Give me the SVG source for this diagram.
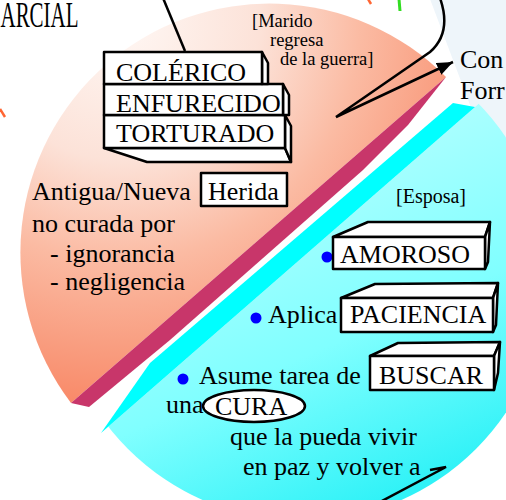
<svg xmlns="http://www.w3.org/2000/svg" width="506" height="500" viewBox="0 0 506 500">
<defs>
<radialGradient id="gSalmon" gradientUnits="userSpaceOnUse" cx="120" cy="20" r="400">
<stop offset="0" stop-color="#FFF8F5"/>
<stop offset="0.35" stop-color="#FCE2D8"/>
<stop offset="0.6" stop-color="#FBBBA3"/>
<stop offset="0.8" stop-color="#F9A083"/>
<stop offset="1" stop-color="#F98563"/>
</radialGradient>
<linearGradient id="gCyan" gradientUnits="userSpaceOnUse" x1="300" y1="180" x2="430" y2="480">
<stop offset="0" stop-color="#AAFFFF"/>
<stop offset="0.5" stop-color="#80FFFF"/>
<stop offset="1" stop-color="#30F2F7"/>
</linearGradient>
<clipPath id="clipCyan"><polygon points="849,-219 1000,-219 1000,1000 -273,1000 -273,759"/></clipPath>
<marker id="arrow" markerUnits="userSpaceOnUse" markerWidth="17" markerHeight="13" refX="16" refY="6.5" orient="auto">
<path d="M0,0 L16,6.5 L0,13 z" fill="#000"/>
</marker>
</defs>
<style>
.t{font-family:"Liberation Serif","Times New Roman",serif;font-size:26px;fill:#000}
.s{font-size:18.5px}
.box{fill:#fff;stroke:#000;stroke-width:2.5;stroke-linejoin:round}
.dot{fill:#0000FF}
.conn{fill:none;stroke:#000;stroke-width:2.5}
</style>
<rect width="506" height="500" fill="#fff"/>
<g id="background">
<polygon points="430,-1 507,-1 507,220 470,105" fill="#EEF5FA"/>
<path d="M446,77 A249,249 0 0 0 71,403 Z" fill="url(#gSalmon)"/>
<polygon points="446,77 408,125 363,170 170,340 89,407 71,403" fill="#C8366A"/>
<circle cx="302" cy="275" r="246" fill="url(#gCyan)" clip-path="url(#clipCyan)"/>
<polygon points="453,103 475,107 101,433 150,363" fill="#00FFFF"/>
<line x1="368" y1="-1" x2="371" y2="4" stroke="#FF6633" stroke-width="2.5"/>
<line x1="399" y1="-1" x2="400" y2="11" stroke="#33DD22" stroke-width="3"/>
<line x1="0" y1="109" x2="5" y2="117" stroke="#FF6633" stroke-width="2.5"/>
</g>
<text class="t" x="0.5" y="27" textLength="78" lengthAdjust="spacingAndGlyphs" style="font-size:35px">ARCIAL</text>
<g id="marido">
<text class="t s" x="252" y="27">[Marido</text>
<text class="t s" x="270" y="46">regresa</text>
<text class="t s" x="280" y="65">de la guerra]</text>
</g>
<g id="con">
<text class="t" x="460" y="68">Con</text>
<text class="t" x="460" y="99">Forr</text>
</g>
<g id="stack">
<polygon class="box" points="104,148 285,148 291,162 147,162"/>
<polygon class="box" points="285,115 291,126 291,162 285,148"/>
<rect class="box" x="104" y="115" width="181" height="33"/>
<polygon class="box" points="283,84 289,95 289,115 283,115"/>
<rect class="box" x="104" y="84" width="179" height="31"/>
<polygon class="box" points="262,52 268,63 268,84 262,84"/>
<rect class="box" x="104" y="52" width="158" height="32"/>
<text class="t" x="116" y="81">COLÉRICO</text>
<text class="t" x="116" y="112">ENFURECIDO</text>
<text class="t" x="116" y="142">TORTURADO</text>
</g>
<g id="herida">
<text class="t" x="32" y="200">Antigua/Nueva</text>
<rect class="box" x="201" y="173" width="86" height="33" stroke-width="2"/>
<text class="t" x="208" y="200">Herida</text>
<text class="t" x="32" y="232">no curada por</text>
<text class="t" x="50" y="262">- ignorancia</text>
<text class="t" x="50" y="290">- negligencia</text>
</g>
<text id="esposa" class="t" x="396" y="203" style="font-size:20px">[Esposa]</text>
<g id="amoroso">
<circle class="dot" cx="327" cy="257" r="5.5"/>
<polygon class="box" points="333,237 368,222 490,222 485,237"/>
<polygon class="box" points="485,237 490,222 488,262 485,269"/>
<rect class="box" x="333" y="237" width="152" height="32"/>
<text class="t" x="340" y="263">AMOROSO</text>
</g>
<g id="paciencia">
<circle class="dot" cx="256" cy="318" r="5.5"/>
<text class="t" x="268" y="323">Aplica</text>
<polygon class="box" points="341,298 375,284 498,283 493,298"/>
<polygon class="box" points="493,298 498,283 496,325 493,332"/>
<rect class="box" x="341" y="298" width="152" height="34"/>
<text class="t" x="350" y="323">PACIENCIA</text>
</g>
<g id="buscar">
<circle class="dot" cx="183" cy="379" r="5.5"/>
<text class="t" x="199" y="384">Asume tarea de</text>
<polygon class="box" points="370,356 398,343 500,342 494,356"/>
<polygon class="box" points="494,356 500,342 498,373 494,390"/>
<rect class="box" x="370" y="356" width="124" height="34"/>
<text class="t" x="379" y="384">BUSCAR</text>
</g>
<g id="cura">
<text class="t" x="166" y="413">una</text>
<ellipse cx="254" cy="406" rx="51" ry="16" fill="#fff" stroke="#000" stroke-width="2.5"/>
<text class="t" x="215" y="415">CURA</text>
<text class="t" x="230" y="445">que la pueda vivir</text>
<text class="t" x="243" y="475">en paz y volver a</text>
</g>
<g id="connectors">
<line class="conn" x1="163" y1="-2" x2="185" y2="51"/>
<path class="conn" d="M440,-2 C447,18 446,38 430,52 L336,117 L453,62" marker-end="url(#arrow)"/>
<polyline class="conn" points="380,502 446,467 430,470"/>
</g>
</svg>
